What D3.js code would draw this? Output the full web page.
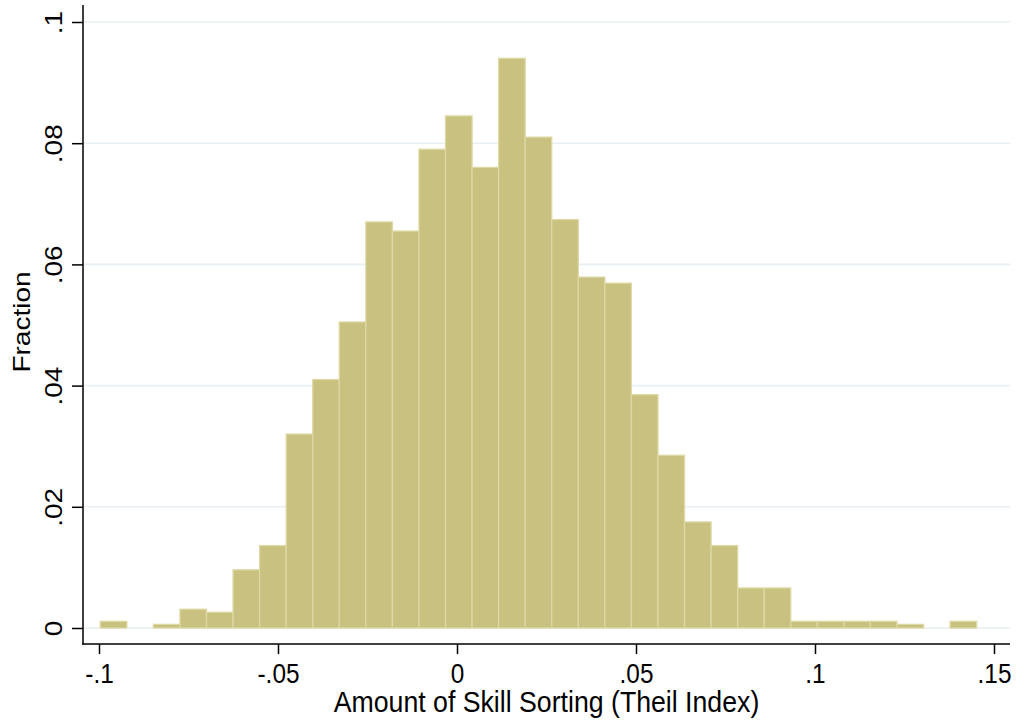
<!DOCTYPE html>
<html>
<head>
<meta charset="utf-8">
<script src="https://cdn.jsdelivr.net/npm/d3@7"></script>
<style>
  body { margin: 0; background: #fff; }
  text { font-family: "Liberation Sans", Arial, Helvetica, sans-serif; fill: #000; }
</style>
</head>
<body>
<div id="chart"></div>
<script>
// histogram bins (fraction of observations per bin)
const binStart = -0.09964;
const binWidth = 0.007418;
const fractions = [
    0.0011, 0, 0.0006, 0.0031, 0.0026, 0.0096, 0.0136, 0.032, 0.041, 0.0505,
    0.067, 0.0655, 0.079, 0.0845, 0.076, 0.094, 0.081, 0.0674, 0.0579, 0.0569,
    0.0385, 0.0285, 0.0175, 0.0136, 0.0066, 0.0066, 0.0011, 0.0011, 0.0011, 0.0011,
    0.0006, 0, 0.0011
];

const xTicks = [-0.1, -0.05, 0, 0.05, 0.1, 0.15];
const xTickLabels = ["-.1", "-.05", "0", ".05", ".1", ".15"];
const yTicks = [0, 0.02, 0.04, 0.06, 0.08, 0.1];
const yTickLabels = ["0", ".02", ".04", ".06", ".08", ".1"];

const xTitle = "Amount of Skill Sorting (Theil Index)";
const yTitle = "Fraction";

(function() {
    const width = 1016, height = 721;
    const plotLeft = 83, plotRight = 1010, plotTop = 5, plotBottom = 644;

    let svg = d3.select("#chart")
        .append("svg")
        .attr("width", width)
        .attr("height", height);

    svg.append("rect")
        .attr("width", width)
        .attr("height", height)
        .attr("fill", "#fff");

    let x = d3.scaleLinear()
        .domain([-0.1, 0.15])
        .range([99, 994]);

    let y = d3.scaleLinear()
        .domain([0, 0.1])
        .range([628, 22]);

    // horizontal grid lines
    svg.append("g")
        .selectAll("line")
        .data(yTicks)
        .join("line")
        .attr("x1", plotLeft)
        .attr("x2", plotRight)
        .attr("y1", d => y(d))
        .attr("y2", d => y(d))
        .attr("stroke", "#e9f0f3")
        .attr("stroke-width", 1.6);

    // bars
    let bins = fractions.map((v, i) => ({ x0: binStart + i * binWidth, x1: binStart + (i + 1) * binWidth, v: v }))
        .filter(d => d.v > 0);

    svg.append("g")
        .selectAll("rect")
        .data(bins)
        .join("rect")
        .attr("x", d => x(d.x0))
        .attr("width", d => x(d.x1) - x(d.x0))
        .attr("y", d => y(d.v))
        .attr("height", d => y(0) - y(d.v))
        .attr("fill", "#c9c17f")
        .attr("stroke", "#ddd8a4")
        .attr("stroke-width", 1.3);

    // y axis
    let yAxis = svg.append("g")
        .attr("transform", `translate(${plotLeft},0)`)
        .call(d3.axisLeft(y)
            .tickValues(yTicks)
            .tickFormat((d, i) => yTickLabels[i])
            .tickSize(11)
            .tickSizeOuter(0));
    yAxis.select(".domain").remove();
    yAxis.selectAll(".tick line").attr("stroke", "#000").attr("stroke-width", 1.5);
    yAxis.selectAll(".tick text")
        .attr("x", 0)
        .attr("dy", 0)
        .attr("text-anchor", "middle")
        .attr("transform", "translate(-21,0) scale(0.87,1) rotate(-90)")
        .style("font-size", "28px");

    // x axis
    let xAxis = svg.append("g")
        .attr("transform", `translate(0,${plotBottom})`)
        .call(d3.axisBottom(x)
            .tickValues(xTicks)
            .tickFormat((d, i) => xTickLabels[i])
            .tickSize(10)
            .tickSizeOuter(0));
    xAxis.select(".domain").remove();
    xAxis.selectAll(".tick line").attr("stroke", "#000").attr("stroke-width", 1.5);
    xAxis.selectAll(".tick text")
        .attr("y", 0)
        .attr("dy", 0)
        .attr("text-anchor", "middle")
        .attr("transform", "translate(0,38.5) scale(0.87,1)")
        .style("font-size", "28px");

    // axis lines
    svg.append("line")
        .attr("x1", plotLeft).attr("x2", plotLeft)
        .attr("y1", plotTop).attr("y2", plotBottom + 0.75)
        .attr("stroke", "#000").attr("stroke-width", 1.5);
    svg.append("line")
        .attr("x1", plotLeft - 0.75).attr("x2", plotRight)
        .attr("y1", plotBottom).attr("y2", plotBottom)
        .attr("stroke", "#000").attr("stroke-width", 1.5);

    // x-axis title
    svg.append("text")
        .attr("transform", `translate(${(plotLeft + plotRight) / 2},711.5) scale(0.89,1)`)
        .attr("text-anchor", "middle")
        .style("font-size", "30px")
        .text(xTitle);

    // y-axis title
    svg.append("text")
        .attr("transform", "translate(30,322) scale(0.87,1) rotate(-90)")
        .attr("text-anchor", "middle")
        .style("font-size", "28px")
        .text(yTitle);
})();
</script>
</body>
</html>
